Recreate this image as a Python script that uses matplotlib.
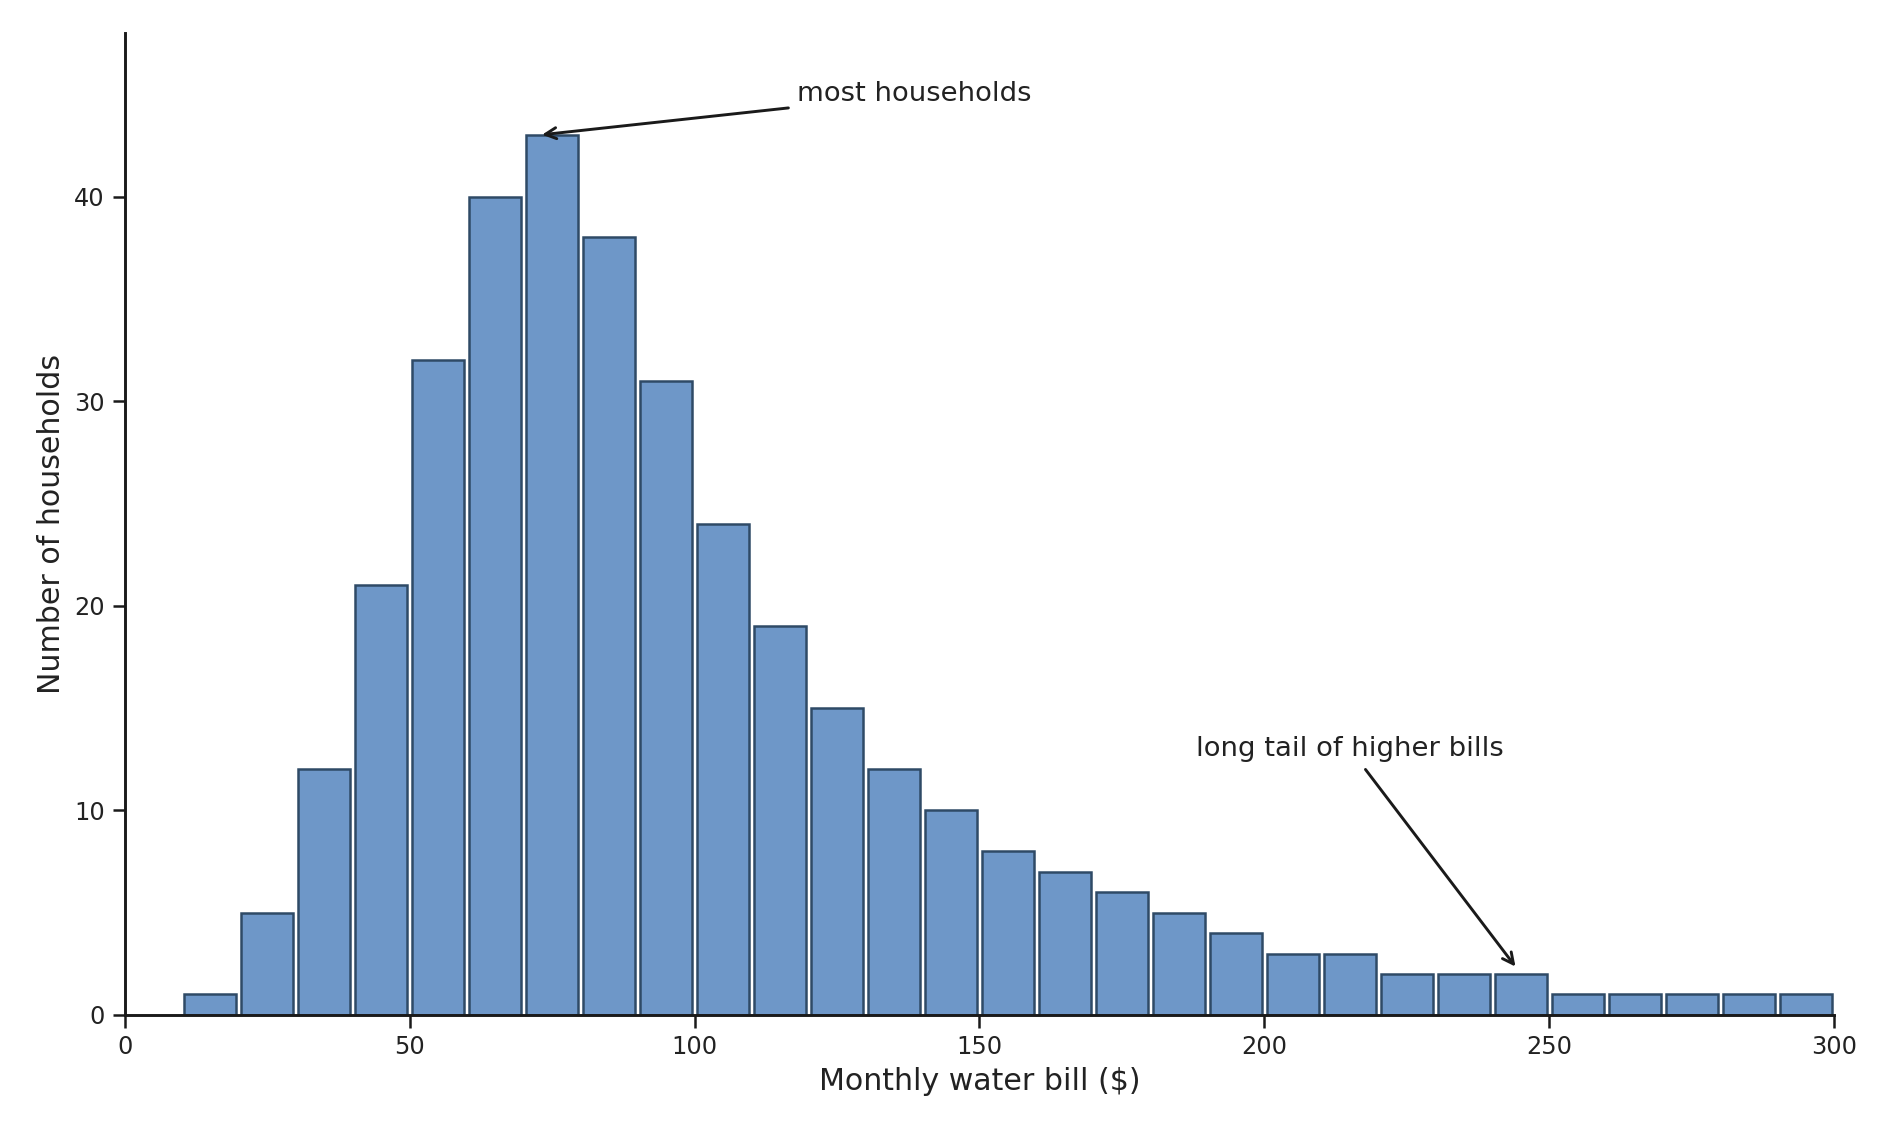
import numpy as np
import matplotlib
matplotlib.use('Agg')
import matplotlib.pyplot as plt

# histogram counts per $10 bin, 0..300
bin_edges = list(range(0, 310, 10))
counts = [0, 1, 5, 12, 21, 32, 40, 43, 38, 31,
          24, 19, 15, 12, 10, 8, 7, 6, 5, 4,
          3, 3, 2, 2, 2, 1, 1, 1, 1, 1]

peak_label = 'most households'
tail_label = 'long tail of higher bills'

fig, ax = plt.subplots(figsize=(12.6, 7.56), dpi=150)
fig.subplots_adjust(left=0.066, right=0.9705, bottom=0.105, top=0.971)

left = np.array(bin_edges[:-1], dtype=float)
nz = np.array(counts) > 0
ax.bar(left[nz] + 5, np.array(counts)[nz], width=9.2, align='center',
       color='#6e97c8', edgecolor='#2f4a66', linewidth=1.2)

ax.set_xlim(0, 300)
ax.set_ylim(0, 48)
ax.set_xticks([0, 50, 100, 150, 200, 250, 300])
ax.set_yticks([0, 10, 20, 30, 40])

for s in ['top', 'right']:
    ax.spines[s].set_visible(False)
for s in ['left', 'bottom']:
    ax.spines[s].set_linewidth(1.4)
    ax.spines[s].set_color('#1a1a1a')
ax.tick_params(direction='out', length=6, width=1.2, colors='#1a1a1a',
               labelsize=11.5, labelcolor='#222222')

ax.set_xlabel('Monthly water bill ($)', fontsize=14.4, color='#222222')
ax.set_ylabel('Number of households', fontsize=14.4, color='#222222')

ax.annotate(peak_label, xy=(72.5, 43), xytext=(138.5, 45),
            ha='center', va='center', fontsize=13.2, color='#222222',
            arrowprops=dict(arrowstyle='->', color='#1a1a1a', lw=1.4))
ax.annotate(tail_label, xy=(244.5, 2.2), xytext=(215, 13),
            ha='center', va='center', fontsize=13.2, color='#222222',
            arrowprops=dict(arrowstyle='->', color='#1a1a1a', lw=1.4))

fig.savefig('out.png', dpi=150)
